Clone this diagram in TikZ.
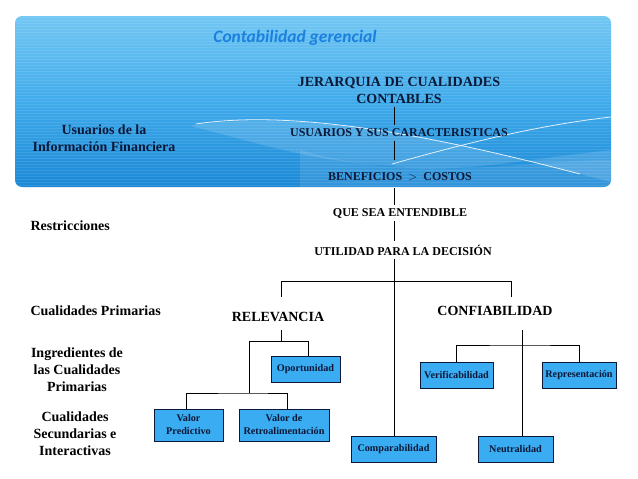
\documentclass[tikz,border=0pt]{standalone}
\usepackage{fontspec}
\setmainfont{Liberation Serif}
\newfontfamily\titlefont{Carlito}
\usetikzlibrary{positioning, calc}
\definecolor{bannertop}{HTML}{72C7F3}
\definecolor{bannermid}{HTML}{40ABEB}
\definecolor{bannerbot}{HTML}{1A88D6}
\definecolor{titleblue}{HTML}{1C80DE}
\definecolor{navy}{HTML}{0B1838}
\definecolor{boxblue}{HTML}{3AACF2}

\begin{document}
\begin{tikzpicture}[x=1pt, y=-1pt,
    big/.style={font=\fontsize{14}{17}\selectfont\bfseries, align=center},
    mid/.style={font=\fontsize{12}{14}\selectfont\bfseries, align=center},
    side/.style={font=\fontsize{14}{17}\selectfont\bfseries, align=center},
    box/.style={draw=navy, line width=0.9pt, fill=boxblue, text=navy,
        font=\fontsize{10.2}{13}\selectfont\bfseries, align=center,
        inner sep=0pt, minimum height=26pt},
    link/.style={line width=1pt, black}]
    \useasboundingbox (0,0) rectangle (638,479);
    % Banner
    \begin{scope}
        \clip[rounded corners=7pt] (15,16) rectangle (611,187);
        \shade[top color=bannertop, bottom color=bannerbot, middle color=bannermid]
            (15,16) rectangle (611,187);
        \foreach \yy in {17,20,...,187}
            \draw[white, opacity=0.10, line width=1pt] (15,\yy) -- (611,\yy);
        \fill[white, opacity=0.14] (190,126) .. controls (300,108) and (450,140) .. (580,174)
            -- (611,182) -- (611,150) .. controls (520,160) and (450,175) .. (392,166)
            .. controls (300,160) and (250,140) .. cycle;
        \fill[white, opacity=0.10] (300,150) .. controls (420,185) and (520,160) .. (611,160)
            -- (611,187) -- (300,187) -- cycle;
        \draw[white, opacity=0.85, line width=0.8pt]
            (196,124) .. controls (300,108) and (450,140) .. (580,174);
        \draw[white, opacity=0.85, line width=0.8pt]
            (392,164) .. controls (470,142) and (540,125) .. (611,117);
    \end{scope}
    % Title
    \node[font=\titlefont\fontsize{17.5}{19}\selectfont\bfseries\itshape, text=titleblue]
        (title) at (295,38) {Contabilidad gerencial};
    % Main column
    \node[big, text=navy] (jer) at (399,90) {JERARQUIA DE CUALIDADES\\CONTABLES};
    \node[mid, text=navy] (usu) at (399,133) {USUARIOS Y SUS CARACTERISTICAS};
    \node[mid, text=navy] (ben) at (400,177) {BENEFICIOS ~$>$~ COSTOS};
    \node[mid] (que) at (400,213) {QUE SEA ENTENDIBLE};
    \node[mid] (util) at (403,250) {UTILIDAD PARA LA DECISIÓN};
    \node[big] (rel) at (278,317) {RELEVANCIA};
    \node[big] (conf) at (495,311) {CONFIABILIDAD};
    % Side labels
    \node[side, text=navy] (usr) at (104,138) {Usuarios de la\\Información Financiera};
    \node[side, anchor=west] (restr) at (27,226) {Restricciones};
    \node[side, anchor=west] (prim) at (27,311) {Cualidades Primarias};
    \node[side] (ingr) at (77,370) {Ingredientes de\\las Cualidades\\Primarias};
    \node[side] (sec) at (75,434) {Cualidades\\Secundarias e\\Interactivas};
    % Boxes
    \node[box, minimum width=69pt] (opo) at (305.5,369) {Oportunidad};
    \node[box, minimum width=69pt, minimum height=32pt] (vpred) at (188.5,425) {Valor\\Predictivo};
    \node[box, minimum width=90pt, minimum height=32pt] (retro) at (284,425) {Valor de\\Retroalimentación};
    \node[box, minimum width=85pt] (comp) at (393.5,449) {Comparabilidad};
    \node[box, minimum width=73pt] (ver) at (456.5,375) {Verificabilidad};
    \node[box, minimum width=74pt] (rep) at (579,375) {Representación};
    \node[box, minimum width=75pt] (neu) at (515.5,449) {Neutralidad};
    % Junctions
    \coordinate (col) at (394,0);
    \coordinate (relTop) at (281,297);
    \coordinate (confTop) at (511,297);
    \coordinate (relBot) at (281,330);
    \coordinate (relL) at (249,341);
    \coordinate (secL) at (249,393);
    \coordinate (confBot) at (522,330);
    \coordinate (confMid) at (522,345);
    % Connectors
    \draw[link] (col |- jer.south) -- (col |- usu.north);
    \draw[link] (col |- usu.south) -- (col |- 0,160);
    \draw[link] (col |- 0,188) -- (col |- que.north);
    \draw[link] (col |- que.south) -- (col |- util.north);
    \draw[link] (col |- util.south) -- (comp.north -| col);
    \draw[link] (relTop) -- ++(0,-16) -| (confTop);
    \draw[link] (relBot) -- (relBot |- relL);
    \draw[link] ([xshift=2.5pt]opo.north) |- (relL) -- (secL);
    \draw[link] ([xshift=-2.5pt]vpred.north) |- (secL) -| ([xshift=3pt]retro.north);
    \draw[link] (confBot) -- (confBot |- neu.north);
    \draw[link] (ver.north) |- (confMid) -| (rep.north);
\end{tikzpicture}
\end{document}
